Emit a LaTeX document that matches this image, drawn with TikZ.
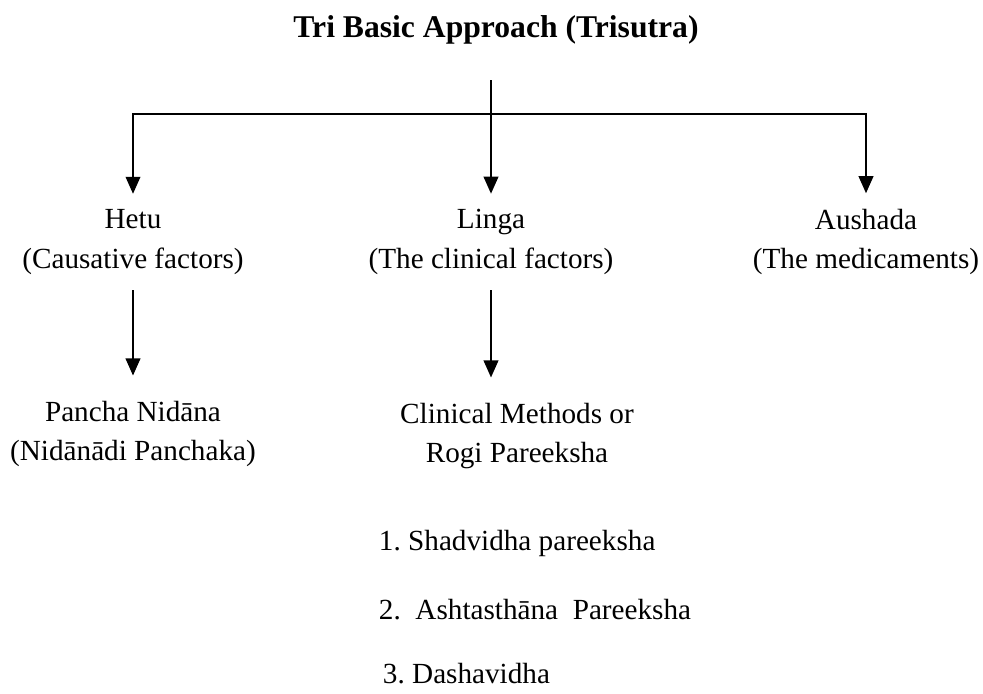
\documentclass[tikz,border=0pt]{standalone}
\usepackage{fontspec}
\setmainfont{Liberation Serif}
\usetikzlibrary{arrows.meta}
\frenchspacing

\begin{document}
\begin{tikzpicture}[x=0.411pt, y=-0.411pt, line width=0.8pt,
        >={Triangle[width=6pt,length=7pt]},
        lbl/.style={align=center, inner sep=6pt, font=\fontsize{12}{16.4}\selectfont},
        item/.style={anchor=west, inner sep=0pt, font=\fontsize{12}{14}\selectfont}]
        \useasboundingbox (0,0) rectangle (983,693);

        % Title
        \node[font=\bfseries\fontsize{13}{15}\selectfont] (title) at (496,30) {Tri Basic Approach (Trisutra)};
        \coordinate (top) at (491,80);
        \coordinate (split) at (491,114);

        % Three factors
        \node[lbl] (hetu) at (133,242) {Hetu\\(Causative factors)};
        \node[lbl] (linga) at (491,242) {Linga\\(The clinical factors)};
        \node[lbl] (aushada) at (866,242) {Aushada\\(The medicaments)};

        % Second level
        \node[lbl, inner sep=10pt] (pancha) at (133,434) {Pancha Nidāna\\(Nidānādi Panchaka)};
        \node[lbl, inner sep=10pt] (clinical) at (517,436) {Clinical Methods or\\Rogi Pareeksha};

        % Pareeksha list
        \node[item] (item1) at (378,543) {1. Shadvidha pareeksha};
        \node[item] (item2) at (378,610) {2.~~Ashtasthāna~~Pareeksha};
        \node[item] (item3) at (382,674) {3. Dashavidha};

        % Edges
        \draw (top) -- (split);
        \draw[->] (split) -| (hetu.north);
        \draw[->] (split) -- (linga.north);
        \draw[->] (split) -| (aushada.north);
        \draw[->] (hetu) -- (pancha);
        \draw[->] (linga.south) -- (linga.south |- clinical.north);
\end{tikzpicture}
\end{document}
